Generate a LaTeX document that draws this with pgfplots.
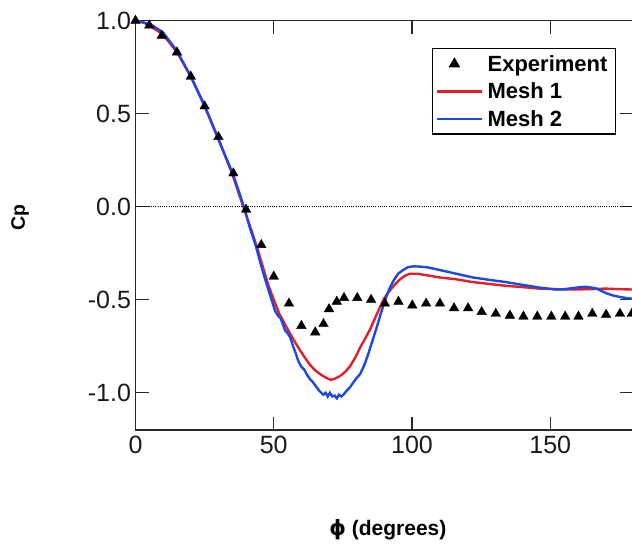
\documentclass[border=0pt]{standalone}
\usepackage{pgfplots}
\pgfplotsset{compat=1.18}
\usepackage{fontspec}
\setmainfont{Liberation Sans}
\newfontfamily\dejavu{DejaVu Sans}
\definecolor{meshred}{RGB}{228,30,38}
\definecolor{meshblue}{RGB}{30,72,228}
\definecolor{axgray}{RGB}{40,40,40}
\pgfplotsset{
  linelegend/.style={legend image code/.code={\draw[##1] (0pt,0pt) -- (45pt,0pt);}},
  marklegend/.style={legend image code/.code={\draw[##1] plot coordinates {(17pt,0pt)};}},
}
\begin{document}
\begin{tikzpicture}
\begin{axis}[
  at={(135.5pt,114pt)}, anchor=south west,
  scale only axis, width=497.7pt, height=409.3pt,
  xmin=0, xmax=180, ymin=-1.2, ymax=1.0,
  xtick={0,50,100,150}, ytick={-1,-0.5,0,0.5,1},
  yticklabel style={/pgf/number format/fixed,/pgf/number format/fixed zerofill,/pgf/number format/precision=1},
  /pgf/number format/assume math mode=true,
  tick label style={font=\fontsize{25}{30}\selectfont, text=black!90},
  xticklabel style={yshift=-3pt},
  yticklabel style={xshift=-1pt},
  tick align=inside, major tick length=13pt,
  axis line style={axgray, line width=1.4pt},
  every tick/.style={axgray, line width=1.4pt},
  xlabel={\fontsize{21}{25}\selectfont\bfseries {\dejavu\bfseries ϕ} (degrees)},
  ylabel={\fontsize{19.5}{23}\selectfont\bfseries Cp},
  xlabel style={at={(axis description cs:0.507,-0.244)}, anchor=center},
  ylabel style={at={(axis description cs:-0.232,0.52)}, anchor=center},
  legend cell align=left,
  legend style={at={(0.595,0.933)}, anchor=north west, draw=black, line width=1.2pt,
    font=\fontsize{22}{26}\selectfont\bfseries, inner xsep=4pt, inner ysep=5pt,
    row sep=7pt, nodes={inner ysep=1.5pt, inner xsep=4pt}},
]
\addlegendimage{only marks, mark=triangle*, mark size=5.5pt, black, marklegend}
\addlegendentry{Experiment}
\addlegendimage{meshred, line width=2.4pt, linelegend}
\addlegendentry{Mesh 1}
\addlegendimage{meshblue, line width=2.4pt, linelegend}
\addlegendentry{Mesh 2}

\addplot[black, line width=1.1pt, dash pattern=on 1pt off 1.2pt, forget plot] coordinates {(0,0) (180,0)};

% Mesh 1
\addplot[meshred, line width=2.4pt, forget plot] coordinates {
(0,1.0) (3,0.99) (6,0.965) (10,0.925) (15,0.83) (20,0.70) (25,0.545) (30,0.365)
(35,0.175) (39,0.0) (42,-0.13) (44,-0.22) (46,-0.32) (48,-0.42) (50,-0.50)
(52,-0.575) (54.7,-0.65) (57,-0.71) (59,-0.76) (61,-0.805) (63,-0.848) (65,-0.88)
(67.3,-0.905) (69,-0.92) (70.6,-0.93) (72,-0.925) (74,-0.91) (76,-0.885)
(77.6,-0.857) (79.5,-0.81) (81.2,-0.758) (83,-0.71) (84.8,-0.66) (86.6,-0.60)
(88.4,-0.54) (90,-0.49) (92,-0.45) (94,-0.415) (95.7,-0.39) (97.5,-0.37)
(99.3,-0.36) (102,-0.36) (104,-0.365) (110,-0.38) (116,-0.39) (122,-0.405)
(128,-0.415) (134,-0.425) (140,-0.432) (146,-0.44) (152,-0.443) (158,-0.445)
(164,-0.443) (170,-0.44) (175,-0.443) (180,-0.445)
};

% Mesh 2
\addplot[meshblue, line width=2.4pt, forget plot] coordinates {
(0,1.0) (3,0.99) (6.4,0.972) (10,0.936) (15,0.837) (20,0.70) (25,0.54) (30.6,0.34)
(35.4,0.17) (39.2,0.0) (41.5,-0.12) (43.5,-0.21) (45.5,-0.32) (47.4,-0.415)
(49,-0.49) (50.5,-0.56) (51.5,-0.585) (52.5,-0.60) (54.1,-0.665) (55,-0.68)
(55.9,-0.70) (57,-0.75) (58,-0.79) (58.9,-0.83) (60,-0.86) (61,-0.875)
(61.9,-0.90) (63,-0.925) (64,-0.94) (65.5,-0.97) (66.5,-0.99) (67.9,-1.01)
(68.8,-1.0) (69.5,-1.02) (70.3,-1.0) (71.2,-1.02) (72,-1.015) (72.8,-1.03)
(73.6,-1.01) (74.4,-1.02) (75.2,-1.01) (76.3,-0.99) (77.6,-0.97) (79,-0.94)
(80,-0.92) (81.2,-0.90) (82.8,-0.85) (84.2,-0.79) (85.7,-0.72) (87.2,-0.65)
(88.7,-0.575) (90.2,-0.505) (91.7,-0.445) (93.2,-0.40) (95,-0.36) (96.8,-0.34)
(98.5,-0.325) (100.5,-0.32) (103,-0.322) (105.3,-0.325) (110,-0.34) (116,-0.36)
(122,-0.38) (128,-0.393) (134,-0.405) (140,-0.42) (146.3,-0.435) (152.3,-0.445)
(155,-0.443) (158.3,-0.437) (161,-0.432) (163.2,-0.43) (165,-0.435) (166.8,-0.44)
(170.4,-0.466) (173,-0.478) (175.2,-0.485) (178,-0.492) (180,-0.495)
};

% Experiment
\addplot[only marks, mark=triangle*, mark size=5.5pt, black, forget plot] coordinates {
(0,1.0) (5,0.975) (9.5,0.92) (15,0.83) (20,0.70) (25,0.54) (30,0.375) (35.4,0.18)
(40,-0.015) (45.5,-0.205) (50,-0.375) (55.5,-0.52) (60,-0.64) (65,-0.675)
(68,-0.63) (70,-0.55) (72.8,-0.51) (75.4,-0.49) (80.2,-0.49) (85.2,-0.50)
(90.2,-0.52) (95.1,-0.51) (100.1,-0.53) (105.1,-0.52) (110.1,-0.52)
(115.2,-0.545) (120.3,-0.545) (125.2,-0.565) (130.3,-0.575) (135.4,-0.585)
(140.3,-0.59) (145.3,-0.59) (150.4,-0.59) (155.4,-0.59) (160.2,-0.59)
(165.2,-0.575) (170.2,-0.58) (175.2,-0.575) (179.5,-0.575)
};
\end{axis}
\pgfresetboundingbox
\path[use as bounding box] (0,0) rectangle (632pt,544pt);
\end{tikzpicture}
\end{document}
